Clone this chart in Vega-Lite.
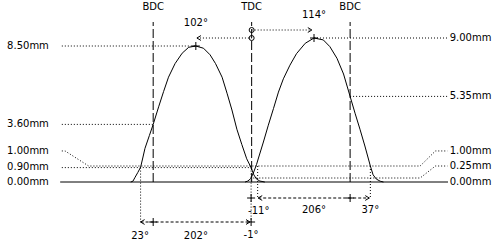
{
  "$schema": "https://vega.github.io/schema/vega-lite/v6.json",
  "width": 500,
  "height": 240,
  "autosize": {"type": "none"},
  "padding": 0,
  "background": "white",
  "config": {"view": {"stroke": null}},
  "datasets": {
    "curves": [
      {"cam":"ex","deg":-221,"lift":0},{"cam":"ex","deg":-217,"lift":0.05},{"cam":"ex","deg":-213,"lift":0.3},{"cam":"ex","deg":-208,"lift":0.6},{"cam":"ex","deg":-203,"lift":0.92},{"cam":"ex","deg":-199,"lift":1.5},{"cam":"ex","deg":-195,"lift":2.1},{"cam":"ex","deg":-187,"lift":2.9},{"cam":"ex","deg":-180,"lift":3.6},{"cam":"ex","deg":-170,"lift":4.7},{"cam":"ex","deg":-161,"lift":5.65},{"cam":"ex","deg":-152,"lift":6.55},{"cam":"ex","deg":-140,"lift":7.4},{"cam":"ex","deg":-127,"lift":8.05},{"cam":"ex","deg":-115,"lift":8.42},{"cam":"ex","deg":-102,"lift":8.5},{"cam":"ex","deg":-88,"lift":8.36},{"cam":"ex","deg":-76,"lift":7.95},{"cam":"ex","deg":-66,"lift":7.4},{"cam":"ex","deg":-54,"lift":6.55},{"cam":"ex","deg":-45,"lift":5.55},{"cam":"ex","deg":-36,"lift":4.5},{"cam":"ex","deg":-27,"lift":3.3},{"cam":"ex","deg":-18,"lift":2.35},{"cam":"ex","deg":-9,"lift":1.45},{"cam":"ex","deg":-1,"lift":0.9},{"cam":"ex","deg":4,"lift":0.45},{"cam":"ex","deg":9,"lift":0.18},{"cam":"ex","deg":15,"lift":0.06},{"cam":"ex","deg":24,"lift":0},
      {"cam":"in","deg":-12,"lift":0},{"cam":"in","deg":-7,"lift":0.06},{"cam":"in","deg":-2,"lift":0.2},{"cam":"in","deg":3,"lift":0.55},{"cam":"in","deg":9,"lift":1.1},{"cam":"in","deg":12.5,"lift":1.5},{"cam":"in","deg":21.5,"lift":2.5},{"cam":"in","deg":30.5,"lift":3.55},{"cam":"in","deg":40,"lift":4.6},{"cam":"in","deg":49,"lift":5.62},{"cam":"in","deg":58,"lift":6.45},{"cam":"in","deg":70,"lift":7.3},{"cam":"in","deg":82,"lift":8.02},{"cam":"in","deg":98,"lift":8.67},{"cam":"in","deg":114,"lift":9.0},{"cam":"in","deg":131,"lift":8.88},{"cam":"in","deg":143,"lift":8.46},{"cam":"in","deg":156,"lift":7.73},{"cam":"in","deg":168,"lift":6.75},{"cam":"in","deg":180,"lift":5.35},{"cam":"in","deg":189,"lift":4.3},{"cam":"in","deg":198,"lift":3.3},{"cam":"in","deg":207,"lift":2.25},{"cam":"in","deg":217,"lift":1.0},{"cam":"in","deg":222,"lift":0.45},{"cam":"in","deg":228,"lift":0.18},{"cam":"in","deg":235,"lift":0.05},{"cam":"in","deg":241,"lift":0}
    ],
    "dotted": [
      {"id":"a","o":1,"deg":-347,"lift":8.5},{"id":"a","o":2,"deg":-102,"lift":8.5},
      {"id":"b","o":1,"deg":-347,"lift":3.6},{"id":"b","o":2,"deg":-180,"lift":3.6},
      {"id":"c","o":1,"deg":-347,"lift":1.94},{"id":"c","o":2,"deg":-341,"lift":1.94},{"id":"c","o":3,"deg":-298,"lift":1.0},{"id":"c","o":4,"deg":308,"lift":1.0},{"id":"c","o":5,"deg":336,"lift":1.94},{"id":"c","o":6,"deg":358,"lift":1.94},
      {"id":"d","o":1,"deg":-347,"lift":0.9},{"id":"d","o":2,"deg":-1,"lift":0.9},
      {"id":"e","o":1,"deg":3,"lift":0.25},{"id":"e","o":2,"deg":308,"lift":0.25},{"id":"e","o":3,"deg":336,"lift":1.0},{"id":"e","o":4,"deg":358,"lift":1.0},
      {"id":"f","o":1,"deg":114,"lift":9.0},{"id":"f","o":2,"deg":358,"lift":9.0},
      {"id":"g","o":1,"deg":180,"lift":5.35},{"id":"g","o":2,"deg":358,"lift":5.35},
      {"id":"h","o":1,"deg":-100,"lift":9.0},{"id":"h","o":2,"deg":0,"lift":9.0},
      {"id":"i","o":1,"deg":0,"lift":9.5},{"id":"i","o":2,"deg":110,"lift":9.5},
      {"id":"j","o":1,"deg":-203,"lift":0.9},{"id":"j","o":2,"deg":-203,"lift":-2.5},
      {"id":"k","o":1,"deg":-1,"lift":0.9},{"id":"k","o":2,"deg":-1,"lift":-2.5},
      {"id":"l","o":1,"deg":11,"lift":1.0},{"id":"l","o":2,"deg":11,"lift":-1.0},
      {"id":"m","o":1,"deg":217,"lift":1.0},{"id":"m","o":2,"deg":217,"lift":-1.0}
    ],
    "dashed": [
      {"id":"L","deg":-203,"lift":-2.5},{"id":"L","deg":-3,"lift":-2.5},
      {"id":"R","deg":12,"lift":-1.0},{"id":"R","deg":215,"lift":-1.0}
    ],
    "refs": [
      {"deg":-180,"lift":0,"top":10},{"deg":0,"lift":0,"top":10},{"deg":180,"lift":0,"top":10}
    ],
    "base": [{"deg":-350,"deg2":359,"lift":0}],
    "heads": [
      {"dir":"l","deg":-203,"lift":-2.5},{"dir":"l","deg":12,"lift":-1.0},{"dir":"l","deg":-100,"lift":9.0},
      {"dir":"r","deg":-3,"lift":-2.5},{"dir":"r","deg":215,"lift":-1.0},{"dir":"r","deg":110,"lift":9.5}
    ],
    "crosses": [
      {"deg":-102,"lift":8.5},{"deg":114,"lift":9.0},{"deg":-180,"lift":-2.5},{"deg":-1,"lift":-2.5},{"deg":-1,"lift":-1.0},{"deg":180,"lift":-1.0}
    ],
    "circles": [{"deg":0,"lift":9.5},{"deg":0,"lift":9.0}],
    "sideLabels": [
      {"t":"8.50mm","deg":-447,"lift":8.5},{"t":"3.60mm","deg":-447,"lift":3.6},{"t":"1.00mm","deg":-447,"lift":1.94},{"t":"0.90mm","deg":-447,"lift":0.94},{"t":"0.00mm","deg":-447,"lift":0},
      {"t":"9.00mm","deg":362,"lift":9.0},{"t":"5.35mm","deg":362,"lift":5.35},{"t":"1.00mm","deg":362,"lift":1.94},{"t":"0.25mm","deg":362,"lift":0.98},{"t":"0.00mm","deg":362,"lift":0}
    ],
    "centerLabels": [
      {"t":"BDC","deg":-180,"lift":10.92},{"t":"TDC","deg":0,"lift":10.92},{"t":"BDC","deg":180,"lift":10.92},
      {"t":"102°","deg":-102,"lift":9.96},{"t":"114°","deg":114,"lift":10.44},
      {"t":"23°","deg":-204,"lift":-3.375},{"t":"202°","deg":-102,"lift":-3.375},{"t":"-1°","deg":-1,"lift":-3.32},
      {"t":"-11°","deg":13,"lift":-1.8},{"t":"206°","deg":114,"lift":-1.75},{"t":"37°","deg":217,"lift":-1.75}
    ]
  },
  "encoding": {
    "x": {"field":"deg","type":"quantitative","scale":{"domain":[-460,454],"nice":false,"zero":false},"axis":null},
    "y": {"field":"lift","type":"quantitative","scale":{"domain":[-3.625,11.375],"nice":false,"zero":false},"axis":null}
  },
  "layer": [
    {
      "data": {"name":"dotted"},
      "mark": {"type":"line","color":"black","strokeWidth":1,"strokeDash":[1,2]},
      "encoding": {"detail":{"field":"id"},"order":{"field":"o","type":"quantitative"}}
    },
    {
      "data": {"name":"refs"},
      "mark": {"type":"rule","color":"black","strokeWidth":1,"strokeDash":[9,3]},
      "encoding": {"y2":{"field":"top"}}
    },
    {
      "data": {"name":"dashed"},
      "mark": {"type":"line","color":"black","strokeWidth":1,"strokeDash":[3,2]},
      "encoding": {"detail":{"field":"id"}}
    },
    {
      "data": {"name":"base"},
      "mark": {"type":"rule","color":"black","strokeWidth":1},
      "encoding": {"x2":{"field":"deg2"}}
    },
    {
      "data": {"name":"curves"},
      "mark": {"type":"line","color":"black","strokeWidth":1},
      "encoding": {"detail":{"field":"cam"}}
    },
    {
      "data": {"name":"heads"},
      "mark": {"type":"point","filled":false,"color":"black","strokeWidth":1,"size":64,"opacity":1},
      "encoding": {"shape":{"field":"dir","type":"nominal","scale":{"domain":["l","r"],"range":["M1,-0.6L0,0L1,0.6","M-1,-0.6L0,0L-1,0.6"]},"legend":null}}
    },
    {
      "data": {"name":"crosses"},
      "mark": {"type":"point","filled":false,"color":"black","strokeWidth":1,"size":64,"opacity":1,"shape":"M-1,0L1,0M0,-1L0,1"}
    },
    {
      "data": {"name":"circles"},
      "mark": {"type":"point","filled":false,"color":"black","strokeWidth":1,"size":25,"opacity":1,"shape":"circle"}
    },
    {
      "data": {"name":"sideLabels"},
      "mark": {"type":"text","align":"left","baseline":"middle","font":"DejaVu Sans","fontSize":10,"color":"black"},
      "encoding": {"text":{"field":"t"}}
    },
    {
      "data": {"name":"centerLabels"},
      "mark": {"type":"text","align":"center","baseline":"middle","font":"DejaVu Sans","fontSize":10,"color":"black"},
      "encoding": {"text":{"field":"t"}}
    }
  ]
}
